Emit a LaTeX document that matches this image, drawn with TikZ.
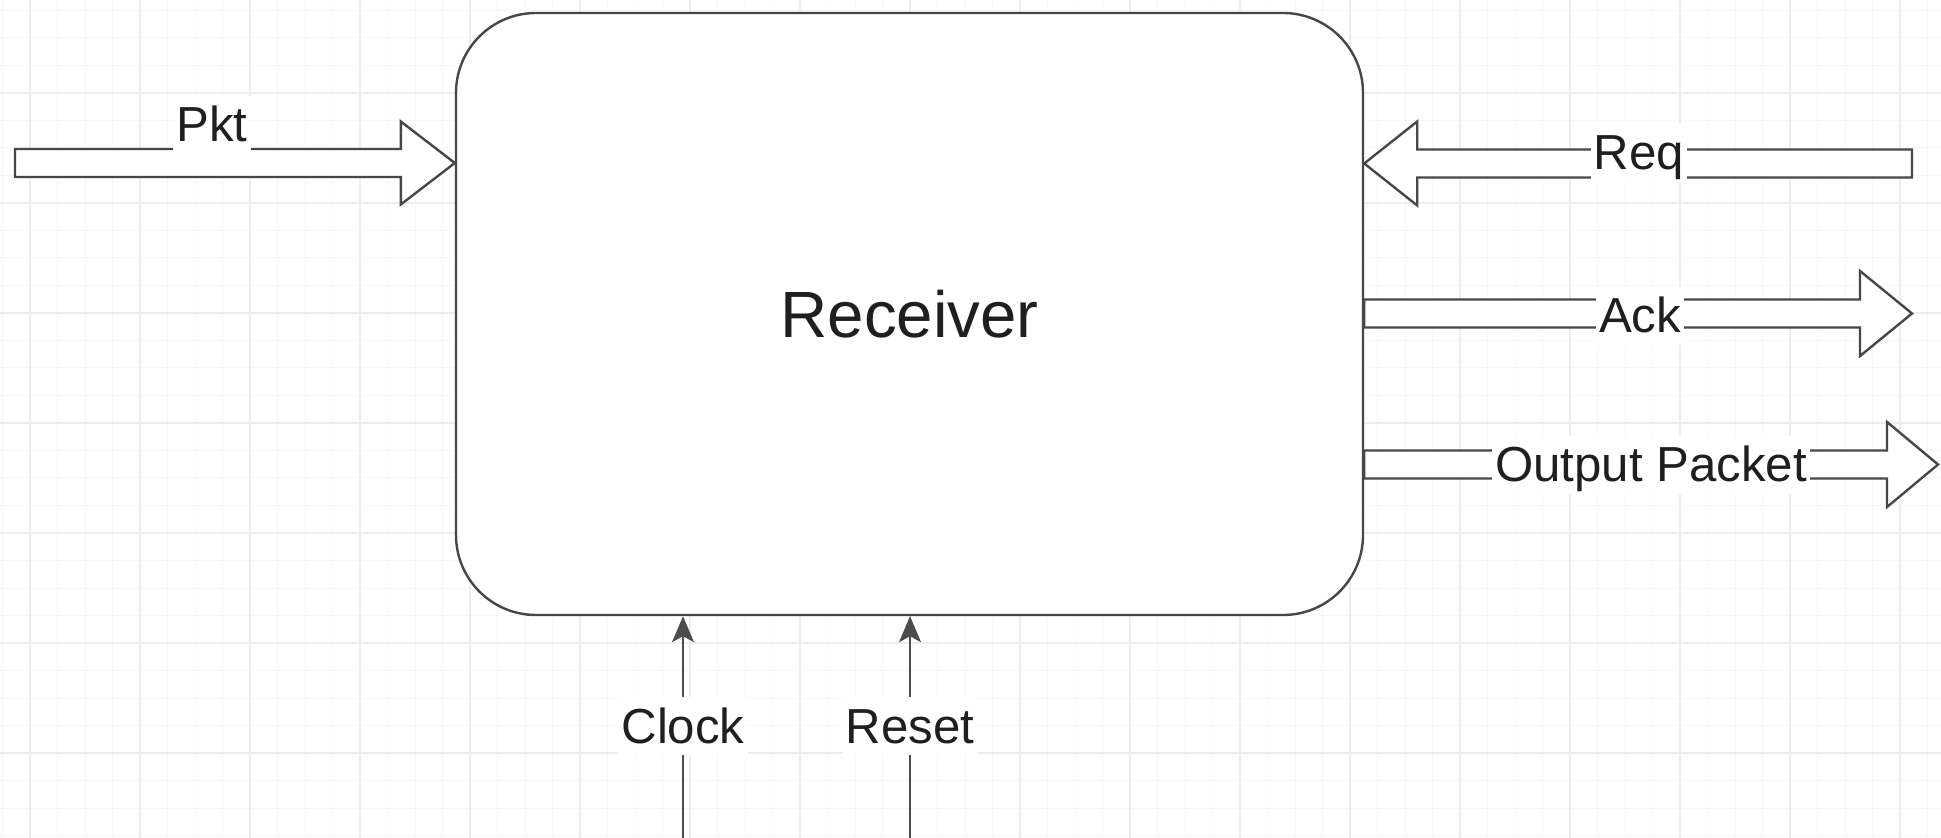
\documentclass[tikz,border=0pt]{standalone}
\usepackage{fontspec}
\setmainfont{Liberation Sans}
\usetikzlibrary{calc,arrows.meta}
\tikzset{
  gridmajor/.style={draw=black!7, line width=1pt},
  gridminor/.style={draw=black!3, line width=0.5pt},
  fat/.style={draw=black!72, line width=1.2pt, fill=white, line join=miter},
  rcvbox/.style={draw=black!72, line width=1.2pt, fill=white, rounded corners=40pt,
    minimum width=453.5pt, minimum height=301pt, inner sep=0pt,
    font=\fontsize{32.7}{38}\selectfont, text=black!88},
  lbl/.style={fill=white, font=\fontsize{24.6}{29}\selectfont, text=black!88,
    inner xsep=1.5pt, inner ysep=0pt, text height=23pt, text depth=6pt, anchor=base},
  sig/.style={draw=black!70, line width=0.9pt, -{Stealth[length=13pt,width=11pt,inset=3pt]}},
}
% #1 tail coordinate, #2 tip coordinate, #3 signed head length, #4 head half height
\newcommand\fatarrow[4]{%
  \draw[fat] ($(#1)+(0,-14)$) -- ($(#2)+(#3,-14)$) -- ($(#2)+(#3,-#4)$) -- (#2)
    -- ($(#2)+(#3,#4)$) -- ($(#2)+(#3,14)$) -- ($(#1)+(0,14)$) -- cycle;}
\begin{document}
\begin{tikzpicture}[x=0.5pt,y=-0.5pt]
\useasboundingbox (0,0) rectangle (1941,838);
\fill[white] (0,0) rectangle (1941,838);
% grid
\foreach \k in {-1,...,70} \draw[gridminor] ({30+27.5*\k},0) -- ({30+27.5*\k},838);
\foreach \k in {-4,...,27} \draw[gridminor] (0,{93+27.5*\k}) -- (1941,{93+27.5*\k});
\foreach \x in {30,140,...,1900} \draw[gridmajor] (\x,0) -- (\x,838);
\foreach \y in {93,203,...,753} \draw[gridmajor] (0,\y) -- (1941,\y);
% receiver block
\node[rcvbox] (rcv) at (909.5,314) {Receiver};
% fat arrows
\coordinate (pktS) at (15,163);
\coordinate (pktE) at (rcv.west |- pktS);
\fatarrow{pktS}{pktE}{-54}{41.5}
\coordinate (reqS) at (1912,163.5);
\coordinate (reqE) at (rcv.east |- reqS);
\fatarrow{reqS}{reqE}{53}{42}
\coordinate (ackE) at (1912,313.5);
\coordinate (ackS) at (rcv.east |- ackE);
\fatarrow{ackS}{ackE}{-52}{42.5}
\coordinate (outE) at (1938,464.5);
\coordinate (outS) at (rcv.east |- outE);
\fatarrow{outS}{outE}{-51}{42.5}
% clock and reset
\coordinate (clkS) at (683,838);
\coordinate (rstS) at (910,838);
\draw[sig] (clkS) -- (clkS |- rcv.south);
\draw[sig] (rstS) -- (rstS |- rcv.south);
% labels
\node[lbl] (lpkt) at (212,142) {Pkt};
\node[lbl] (lreq) at (1639,170) {Req};
\node[lbl] (lack) at (1640,333) {Ack};
\node[lbl] (lout) at (1651,482) {Output Packet};
\node[lbl] (lclk) at (683,743) {Clock};
\node[lbl] (lrst) at (910,743) {Reset};
\end{tikzpicture}
\end{document}
